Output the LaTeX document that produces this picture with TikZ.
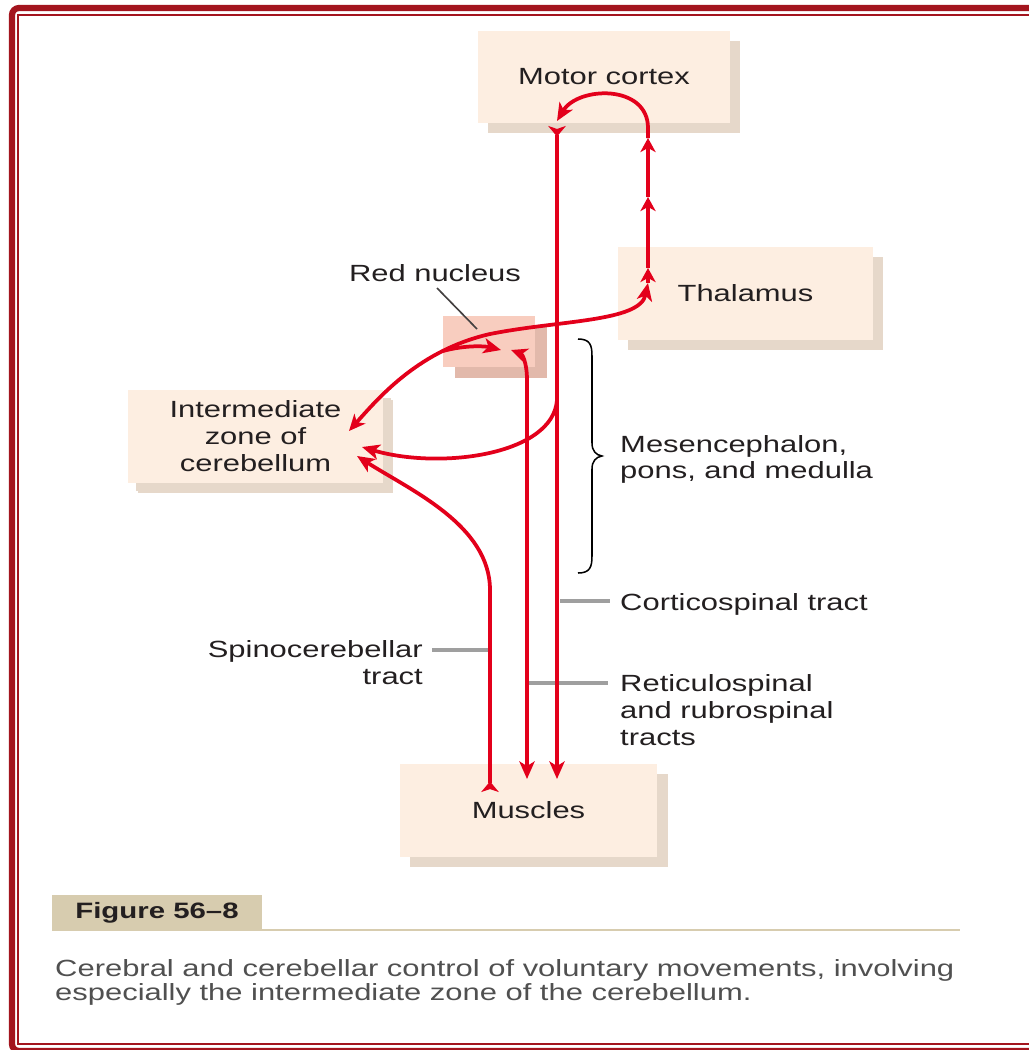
\documentclass[tikz,border=0pt]{standalone}
\usepackage{fontspec}
\setmainfont{Liberation Sans}[FakeStretch=1.32]
\usetikzlibrary{arrows.meta,shadows}
\definecolor{framec}{HTML}{A3151E}
\definecolor{boxc}{HTML}{FDEEE1}
\definecolor{shadc}{HTML}{E6D8CA}
\definecolor{rnc}{HTML}{F8CDBF}
\definecolor{rnshad}{HTML}{E2B9AB}
\definecolor{redl}{HTML}{E3001B}
\definecolor{txt}{HTML}{231F20}
\definecolor{leadc}{HTML}{9F9F9F}
\definecolor{figc}{HTML}{D7CCAF}
\definecolor{capc}{HTML}{505050}
\begin{document}
\begin{tikzpicture}[x=0.03cm,y=-0.03cm,
  lbl/.style={text=txt,font=\fontsize{20}{23}\selectfont,inner sep=0pt},
  beigebox/.style={fill=boxc,inner sep=0pt,text=txt,font=\fontsize{20}{23}\selectfont,align=center,
    drop shadow={shadow xshift=0.3cm,shadow yshift=-0.3cm,fill=shadc,opacity=1}},
  tract/.style={draw=redl,line width=3.2pt},
  endarr/.style={-{Stealth[length=15pt,width=13pt,inset=4pt]}},
  midarr/.style={-{Stealth[length=12pt,width=13pt,inset=3.5pt]}},
  revboth/.style={{Stealth[reversed,length=9pt,width=15pt,inset=2.5pt]}-{Stealth[length=15pt,width=13pt,inset=4pt]}},
  backboth/.style={{Stealth[length=14pt,width=12.5pt,inset=4pt]}-{Stealth[length=15pt,width=13pt,inset=4pt]}},
  leader/.style={draw=leadc,line width=2.8pt},
]
\useasboundingbox (0,0) rectangle (1029,1050);
% frame
\draw[framec,line width=5.3pt,rounded corners=6pt] (12,8) rectangle (1045,1051);
\draw[framec,line width=1.8pt] (18.3,15) rectangle (1045,1044);

% boxes
\node[beigebox,minimum width=7.56cm,minimum height=2.76cm] (mc) at (604,77) {Motor cortex};
\node[beigebox,minimum width=7.65cm,minimum height=2.79cm] (th) at (745.5,293.5) {Thalamus};
\node[beigebox,minimum width=7.65cm,minimum height=2.79cm,
  drop shadow={shadow xshift=0.24cm,shadow yshift=-0.24cm,fill=shadc,opacity=1}] (ce) at (255.5,436.5) {Intermediate\\zone of\\cerebellum};
\node[beigebox,minimum width=7.71cm,minimum height=2.79cm,
  drop shadow={shadow xshift=0.33cm,shadow yshift=-0.3cm,fill=shadc,opacity=1}] (mu) at (528.5,810.5) {Muscles};
\node[fill=rnc,inner sep=0pt,minimum width=2.76cm,minimum height=1.53cm,
  drop shadow={shadow xshift=0.36cm,shadow yshift=-0.33cm,fill=rnshad,opacity=1}] (rn) at (489,341.5) {};

% labels
\node[lbl] (rnlab) at (435,273) {Red nucleus};
\coordinate (rnl1) at (437,288);
\coordinate (rnl2) at (477,329);
\draw[draw=txt!85,line width=1.4pt] (rnl1) -- (rnl2);

\node[lbl,anchor=north west,align=left,font=\fontsize{20}{22.5}\selectfont] (mes) at (620,435) {Mesencephalon,\\pons, and medulla};
\node[lbl,anchor=north west] (cst) at (620,593) {Corticospinal tract};
\node[lbl,anchor=north east,align=right] (sct) at (423,640) {Spinocerebellar\\tract};
\node[lbl,anchor=north west,align=left] (rst) at (620,674) {Reticulospinal\\and rubrospinal\\tracts};

% brace
\coordinate (b1) at (578,339);
\coordinate (b2) at (578,573);
\draw[black,line width=1.3pt] (b1) .. controls (590,339) and (592,345) .. (592,356) -- (592,443)
  .. controls (592,451) and (596,455) .. (602,456) .. controls (596,457) and (592,461) .. (592,469)
  -- (592,556) .. controls (592,567) and (590,573) .. (b2);

% leaders
\coordinate (csl1) at (560,601);
\coordinate (csl2) at (610,601);
\draw[leader] (csl1) -- (csl2);
\coordinate (scl1) at (432,650);
\coordinate (scl2) at (489,650);
\draw[leader] (scl1) -- (scl2);
\coordinate (rsl1) at (529,683);
\coordinate (rsl2) at (608,683);
\draw[leader] (rsl1) -- (rsl2);

% tract coordinates
\coordinate (cstop) at (557,126);
\coordinate (csbot) at (557,779);
\coordinate (csbr) at (557,400);
\coordinate (rsstart) at (511,350);
\coordinate (rsbot) at (527,779);
\coordinate (scbot) at (490,792);
\coordinate (scend) at (357,456);
\coordinate (cebr) at (362,447);
\coordinate (cestart) at (349,431);
\coordinate (arcmid) at (490,334);
\coordinate (thin) at (648,283);
\coordinate (rnin) at (501,350);
\coordinate (rnbr) at (443,351);
\coordinate (t1) at (648,268);
\coordinate (t2) at (648,197);
\coordinate (t3) at (648,138);
\coordinate (t4) at (648,128);
\coordinate (mcin) at (557,121);

% corticospinal
\draw[tract,revboth] (cstop) -- (csbot);
% corticospinal branch to cerebellum
\draw[tract,endarr] (csbr) .. controls (553,455) and (440,470) .. (cebr);
% rubrospinal
\draw[tract,backboth] (rsstart) .. controls (522,354) and (527,362) .. (527,380) -- (rsbot);
% spinocerebellar
\draw[tract,revboth] (scbot) -- (490,590) .. controls (490,525) and (410,490) .. (scend);
% cerebellum to thalamus
\draw[tract,backboth] (cestart) .. controls (380,396) and (420,350) .. (arcmid)
  .. controls (560,320) and (640,322) .. (thin);
% cerebellum to red nucleus
\draw[tract,endarr] (rnbr) .. controls (465,345) and (485,346) .. (rnin);
% thalamus to motor cortex
\draw[tract,midarr] (thin) -- (t1);
\draw[tract,midarr] (t1) -- (t2);
\draw[tract,midarr] (t2) -- (t3);
\draw[tract,endarr] (t3) -- (t4) .. controls (648,84) and (578,86) .. (mcin);

% figure caption
\node[fill=figc,inner sep=0pt,minimum width=6.3cm,minimum height=1.08cm,text=txt,
  font=\fontsize{19}{21}\selectfont\bfseries] (fig) at (157,913) {Figure 56--8};
\coordinate (rule1) at (262,930);
\coordinate (rule2) at (960,930);
\draw[figc,line width=1.7pt] (rule1) -- (rule2);
\node[anchor=north west,inner sep=0pt,text=capc,align=left,font=\fontsize{20}{20.5}\selectfont] (cap) at (55,959)
  {Cerebral and cerebellar control of voluntary movements, involving\\especially the intermediate zone of the cerebellum.};
\end{tikzpicture}
\end{document}
